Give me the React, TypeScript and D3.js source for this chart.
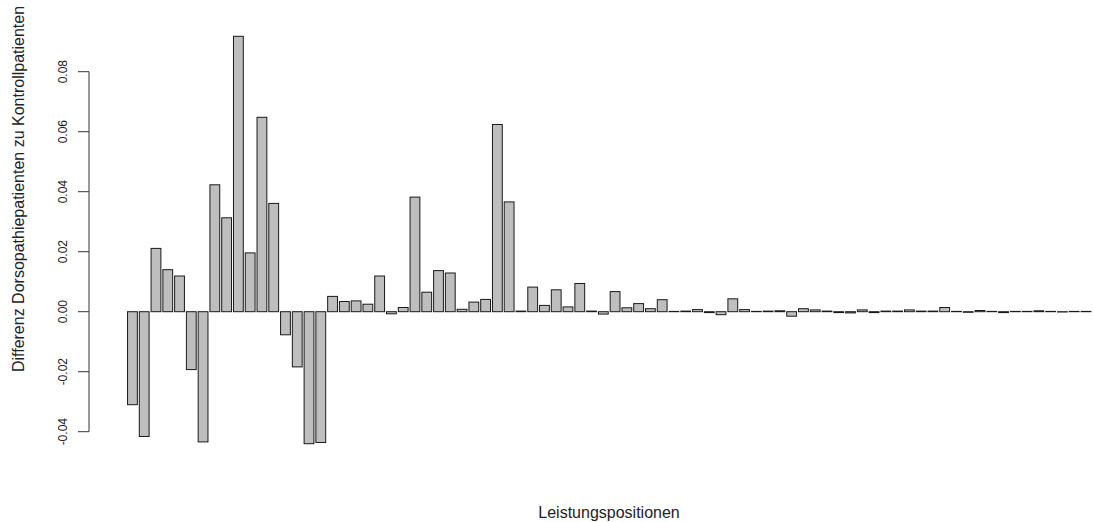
import React, { useEffect, useRef } from 'react'
import * as d3 from 'd3';

// Differenz je Leistungsposition (in Reihenfolge der Balken)
const differenz: number[] = [
    -0.0310, -0.0416, 0.0211, 0.0140, 0.0119, -0.0193, -0.0434, 0.0423, 0.0313, 0.0918,
    0.0196, 0.0648, 0.0361, -0.0077, -0.0184, -0.0440, -0.0436, 0.0051, 0.0034, 0.0036,
    0.0025, 0.0119, -0.0007, 0.0014, 0.0382, 0.0065, 0.0137, 0.0129, 0.0008, 0.0032,
    0.0041, 0.0624, 0.0366, 0.0002, 0.0082, 0.0021, 0.0073, 0.0016, 0.0094, 0.0002,
    -0.0008, 0.0067, 0.0013, 0.0027, 0.0010, 0.0040, 0.0001, 0.0002, 0.0007, -0.0003,
    -0.0010, 0.0043, 0.0007, 0.0001, 0.0002, 0.0003, -0.0015, 0.0010, 0.0006, 0.0002,
    -0.0003, -0.0004, 0.0006, -0.0003, 0.0002, 0.0002, 0.0006, 0.0002, 0.0002, 0.0014,
    0.0001, -0.0002, 0.0004, 0.0001, -0.0003, 0.0001, 0.0001, 0.0003, 0.0001, -0.0001,
    0.0001, 0.0001
];

const yTicks: number[] = [-0.04, -0.02, 0.0, 0.02, 0.04, 0.06, 0.08];

const xTitle = "Leistungspositionen";
const yTitle = "Differenz Dorsopathiepatienten zu Kontrollpatienten";

const App = () => {
    const svgRef = useRef<SVGSVGElement>(null);

useEffect(() => {
const width = 1093;
const height = 522;
const font = "'Liberation Sans', Arial, Helvetica, sans-serif";

// barplot-Layout wie in R: Breite 1, Abstand 0.2, Achse um 4% erweitert
const n = differenz.length;
const lo = 0.2, hi = 1.2 * n;
const pad = (hi - lo) * 0.04;
const x = d3.scaleLinear([lo - pad, hi + pad], [89, 1129.4]);

const y = d3.scaleLinear([0, 0.08], [311.7, 71.7]);

const svg = d3.select(svgRef.current)
    .attr("width", width)
    .attr("height", height)
    .attr("viewBox", [0, 0, width, height].join(" "))
    .style("font-family", font);

svg.selectAll("*").remove();

svg.append("rect")
    .attr("width", width)
    .attr("height", height)
    .attr("fill", "white");

// Balken
svg.append("g")
    .selectAll("rect")
    .data(differenz)
    .join("rect")
    .attr("x", (d, i) => x(lo + 1.2 * i))
    .attr("width", (d, i) => x(lo + 1.2 * i + 1) - x(lo + 1.2 * i))
    .attr("y", d => y(Math.max(0, d)))
    .attr("height", d => Math.abs(y(d) - y(0)))
    .attr("fill", "#bebebe")
    .attr("stroke", "#1a1a1a")
    .attr("stroke-width", 1);

// y-Achse
const axisX = x(lo - pad);
const yAxis = svg.append("g");
yAxis.append("line")
    .attr("x1", axisX).attr("x2", axisX)
    .attr("y1", y(yTicks[0])).attr("y2", y(yTicks[yTicks.length - 1]))
    .attr("stroke", "#333").attr("stroke-width", 1);
yAxis.selectAll(".tick")
    .data(yTicks)
    .join("line")
    .attr("x1", axisX - 11).attr("x2", axisX)
    .attr("y1", d => y(d)).attr("y2", d => y(d))
    .attr("stroke", "#333").attr("stroke-width", 1);
yAxis.selectAll("text")
    .data(yTicks)
    .join("text")
    .attr("transform", d => `translate(67,${y(d)}) rotate(-90)`)
    .attr("text-anchor", "middle")
    .attr("font-size", 12)
    .attr("fill", "#222")
    .text(d => d3.format(".2f")(d).replace("−", "-"));

// Achsentitel
svg.append("text")
    .attr("x", 609)
    .attr("y", 518)
    .attr("text-anchor", "middle")
    .attr("font-size", 16)
    .attr("fill", "#222")
    .text(xTitle);

svg.append("text")
    .attr("transform", `translate(24,189) rotate(-90)`)
    .attr("text-anchor", "middle")
    .attr("font-size", 16)
    .attr("fill", "#222")
    .text(yTitle);
}, []);

return (
    <svg ref={svgRef} style={{ position: "absolute", left: 0, top: 0, display: "block" }} />
)
}

export default App
